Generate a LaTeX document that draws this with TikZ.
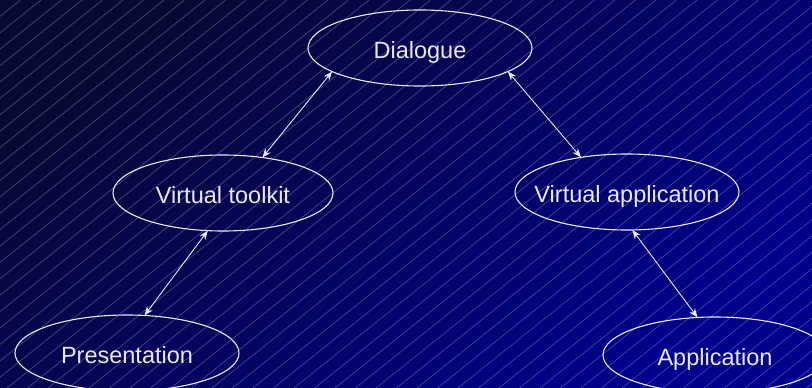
\documentclass[tikz,border=0pt]{standalone}
\usepackage{fontspec}
\setmainfont{Liberation Sans}
\usetikzlibrary{shapes.geometric,arrows.meta}
\definecolor{bgdark}{RGB}{8,8,52}
\definecolor{bglight}{RGB}{0,0,140}
\definecolor{hatch}{RGB}{150,150,210}
\definecolor{ink}{RGB}{232,232,242}
\tikzset{
  layer/.style={ellipse, draw=ink, line width=1.1pt, text=ink,
    minimum width=224pt, minimum height=76pt, inner sep=0pt, outer sep=0pt,
    text height=21pt, text depth=0pt,
    font=\fontsize{23.5}{28}\selectfont},
  link/.style={draw=ink, line width=0.9pt,
    {Stealth[length=9pt,width=7pt]}-{Stealth[length=9pt,width=7pt]}},
}
% label of zero width, so the ellipse keeps its own size
\newcommand{\lbl}[1]{\makebox[0pt]{#1}}
\begin{document}
\begin{tikzpicture}[x=1pt,y=-1pt]
  % background with diagonal gradient
  \shade[top color=bgdark, bottom color=bglight, shading angle=40]
    (0,0) rectangle (812,388);
  \useasboundingbox (0,0) rectangle (812,388);
  % fine diagonal hatching
  \begin{scope}
    \clip (0,0) rectangle (812,388);
    \foreach \x in {0,20.5,...,1330}
      \draw[hatch, opacity=0.55, line width=0.5pt] (\x,0) -- ({\x-485},388);
  \end{scope}
  % layers
  \node[layer] (dlg) at (420,48) {\lbl{Dialogue}};
  \node[layer, minimum width=220pt] (vtk) at (223,193) {\lbl{Virtual toolkit}};
  \node[layer] (vap) at (627,192) {\lbl{Virtual application}};
  \node[layer] (pre) at (127,353) {\lbl{Presentation}};
  \node[layer] (app) at (715,355) {\lbl{Application}};
  % connections
  \draw[link] (dlg.195) -- (vtk.42);
  \draw[link] (dlg.345) -- (vap.143);
  \draw[link] (vtk.248) -- (pre.65);
  \draw[link] (vap.278) -- (app.115);
\end{tikzpicture}
\end{document}
